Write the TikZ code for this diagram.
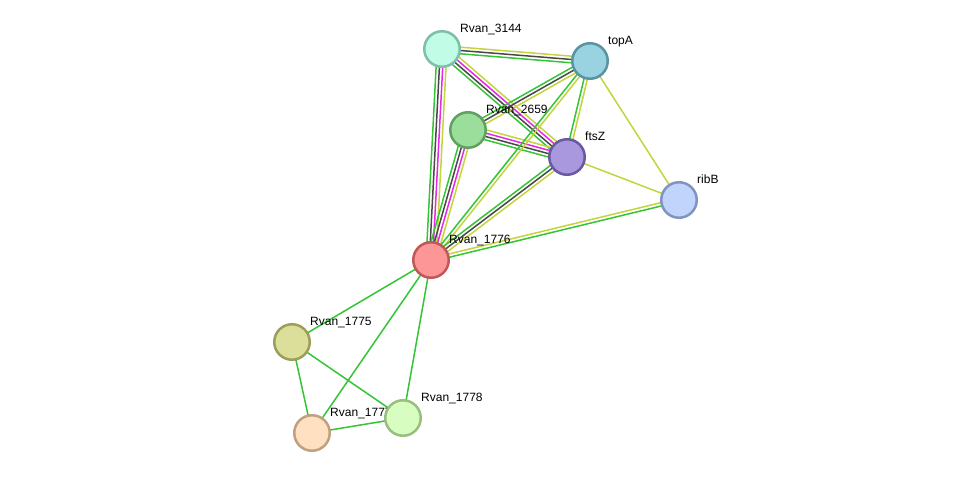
\documentclass[tikz,border=0pt]{standalone}
\usepackage{fontspec}
\setmainfont{Liberation Sans}
\usetikzlibrary{calc}
\pgfdeclarelayer{background}
\pgfsetlayers{background,main}

% evidence colours
\definecolor{evgreen}{RGB}{52,196,52}
\definecolor{evyellow}{RGB}{196,212,60}
\definecolor{evdark}{RGB}{72,72,72}
\definecolor{evmagenta}{RGB}{228,40,228}

\tikzset{
  prot/.style={circle, minimum size=35.5pt, inner sep=0pt, line width=2.5pt},
  lbl/.style={font=\fontsize{12}{14}\selectfont, inner sep=0.3pt, anchor=base west, xshift=4.3pt, yshift=3pt},
  evline/.style={line width=1.5pt}
}

% parallel lines between two proteins, colours listed right to left of the direction
\newcommand\linkband[3]{%
  \foreach \col [count=\i] in {#3} {\xdef\nband{\i}}%
  \foreach \col [count=\i] in {#3} {%
    \pgfmathsetmacro\off{(\i-(\nband+1)/2)*3.3}%
    \draw[evline,\col] ($(#1.center)!\off pt!90:(#2.center)$) -- ($(#2.center)!\off pt!-90:(#1.center)$);
  }%
}

\begin{document}
\begin{tikzpicture}[x=1pt,y=-1pt]
  \useasboundingbox (0,0) rectangle (975,478);
  \node[prot, draw={rgb,255:red,127;green,190;blue,170}, fill={rgb,255:red,192;green,252;blue,230}, label={[lbl]45:Rvan\_3144}] (r3144) at (442,49) {};
  \node[prot, draw={rgb,255:red,90;green,148;blue,163}, fill={rgb,255:red,153;green,210;blue,224}, label={[lbl]45:topA}] (topA) at (590,61) {};
  \node[prot, draw={rgb,255:red,96;green,160;blue,96}, fill={rgb,255:red,155;green,222;blue,155}, label={[lbl]45:Rvan\_2659}] (r2659) at (468,130) {};
  \node[prot, draw={rgb,255:red,106;green,88;blue,160}, fill={rgb,255:red,170;green,152;blue,222}, label={[lbl]45:ftsZ}] (ftsZ) at (567,157) {};
  \node[prot, draw={rgb,255:red,128;green,148;blue,192}, fill={rgb,255:red,193;green,212;blue,252}, label={[lbl]45:ribB}] (ribB) at (679,200) {};
  \node[prot, draw={rgb,255:red,192;green,88;blue,88}, fill={rgb,255:red,253;green,150;blue,150}, label={[lbl]45:Rvan\_1776}] (r1776) at (431,260) {};
  \node[prot, draw={rgb,255:red,155;green,159;blue,90}, fill={rgb,255:red,219;green,223;blue,153}, label={[lbl]45:Rvan\_1775}] (r1775) at (292,342) {};
  \node[prot, draw={rgb,255:red,192;green,160;blue,128}, fill={rgb,255:red,255;green,224;blue,192}, label={[lbl]45:Rvan\_1777}] (r1777) at (312,433) {};
  \node[prot, draw={rgb,255:red,152;green,190;blue,128}, fill={rgb,255:red,216;green,253;blue,192}, label={[lbl]45:Rvan\_1778}] (r1778) at (403,418) {};

  \begin{pgfonlayer}{background}
    \linkband{r3144}{topA}{evgreen,evdark,evyellow}
    \linkband{r3144}{ftsZ}{evgreen,evdark,evmagenta,evyellow}
    \linkband{r3144}{r1776}{evgreen,evdark,evmagenta,evyellow}
    \linkband{topA}{r2659}{evgreen,evdark,evyellow}
    \linkband{r2659}{ftsZ}{evgreen,evdark,evmagenta,evyellow}
    \linkband{r2659}{r1776}{evgreen,evdark,evmagenta,evyellow}
    \linkband{topA}{ftsZ}{evgreen,evyellow}
    \linkband{topA}{r1776}{evgreen,evyellow}
    \linkband{topA}{ribB}{evyellow}
    \linkband{ftsZ}{ribB}{evyellow}
    \linkband{ftsZ}{r1776}{evgreen,evdark,evyellow}
    \linkband{r1776}{ribB}{evgreen,evyellow}
    % operon neighbours
    \linkband{r1776}{r1775}{evgreen}
    \linkband{r1776}{r1777}{evgreen}
    \linkband{r1776}{r1778}{evgreen}
    \linkband{r1775}{r1777}{evgreen}
    \linkband{r1775}{r1778}{evgreen}
    \linkband{r1777}{r1778}{evgreen}
  \end{pgfonlayer}
\end{tikzpicture}
\end{document}
